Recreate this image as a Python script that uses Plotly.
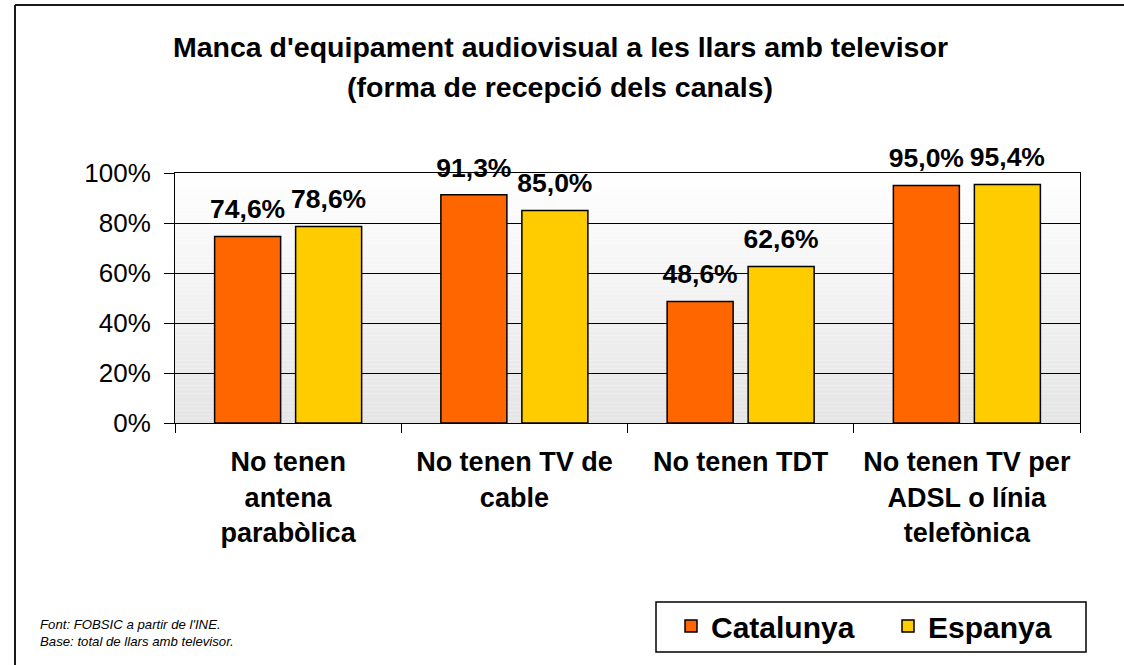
import plotly.graph_objects as go

# ---- data ----
categories = [
    "No tenen<br>antena<br>parabòlica",
    "No tenen TV de<br>cable",
    "No tenen TDT",
    "No tenen TV per<br>ADSL o línia<br>telefònica",
]
catalunya = [74.6, 91.3, 48.6, 95.0]
espanya = [78.6, 85.0, 62.6, 95.4]
series_names = ["Catalunya", "Espanya"]
y_ticks = [0, 20, 40, 60, 80, 100]
y_tick_labels = ["0%", "20%", "40%", "60%", "80%", "100%"]
title_lines = ["Manca d'equipament audiovisual a les llars amb televisor",
               "(forma de recepció dels canals)"]
footnote = "Font: FOBSIC a partir de l'INE.<br>Base: total de llars amb televisor."

FONT = "Arial, 'Liberation Sans', sans-serif"
W, H = 1124, 665
ML, MR, MT, MB = 175, 44, 173, 242
PW = W - ML - MR
PH = H - MT - MB
BARGAP, GROUPGAP = 0.284, 0.185


def px_x(p):
    return (p - ML) / PW


def px_y(p):
    return (H - MB - p) / PH


def fmt(v):
    return f"{v:.1f}".replace(".", ",") + "%"


fig = go.Figure()
colors = ["#FF6600", "#FFCC00"]
for name, vals, col in [(series_names[0], catalunya, colors[0]),
                        (series_names[1], espanya, colors[1])]:
    fig.add_trace(go.Bar(
        name=name, x=categories, y=vals,
        marker=dict(color=col, line=dict(color="#000000", width=1.5)),
        hoverinfo="skip",
    ))
# value labels (grouped like the bars)
for name, vals in [(series_names[0], catalunya), (series_names[1], espanya)]:
    fig.add_trace(go.Scatter(
        name=name + " labels", x=categories, y=vals, mode="markers+text",
        marker=dict(size=17, opacity=0),
        text=[fmt(v) for v in vals], textposition="top center",
        textfont=dict(family=FONT, size=26.5, color="#000000", weight="bold"),
        showlegend=False, hoverinfo="skip", cliponaxis=False,
    ))

# gradient background of plot area
shapes = []
n = 60
for i in range(n):
    t = (i + 0.5) / n  # 0 at bottom -> 1 top
    g = int(round(229 + (255 - 229) * t))
    shapes.append(dict(type="rect", xref="x domain", yref="y domain",
                       x0=0, x1=1, y0=i / n, y1=(i + 1) / n,
                       fillcolor=f"rgb({g},{g},{g})", line=dict(width=0),
                       layer="below"))
# outer frame (top and left visible)
shapes.append(dict(type="line", xref="paper", yref="paper",
                   x0=px_x(15), x1=px_x(1135), y0=px_y(5), y1=px_y(5),
                   line=dict(color="#1a1a1a", width=2)))
shapes.append(dict(type="line", xref="paper", yref="paper",
                   x0=px_x(15), x1=px_x(15), y0=px_y(5), y1=px_y(675),
                   line=dict(color="#1a1a1a", width=2)))
# legend box
shapes.append(dict(type="rect", xref="paper", yref="paper",
                   x0=px_x(656), x1=px_x(1086), y0=px_y(602), y1=px_y(652),
                   line=dict(color="#000000", width=1.5), fillcolor="rgba(0,0,0,0)"))

annotations = [
    dict(text="<b>" + title_lines[0] + "</b>", xref="paper", yref="paper",
         x=px_x(560), y=px_y(47), xanchor="center", yanchor="middle", showarrow=False,
         font=dict(family=FONT, size=28.5, color="#000000")),
    dict(text="<b>" + title_lines[1] + "</b>", xref="paper", yref="paper",
         x=px_x(560), y=px_y(87), xanchor="center", yanchor="middle", showarrow=False,
         font=dict(family=FONT, size=28.5, color="#000000")),
    dict(text="<i>" + footnote + "</i>", xref="paper", yref="paper",
         x=px_x(38), y=px_y(633), xanchor="left", yanchor="middle",
         align="left", showarrow=False,
         font=dict(family=FONT, size=13.2, color="#000000")),
]

fig.update_layout(
    width=W, height=H,
    margin=dict(l=ML, r=MR, t=MT, b=MB, autoexpand=False),
    paper_bgcolor="#FFFFFF", plot_bgcolor="#FFFFFF",
    barmode="group", bargap=BARGAP, bargroupgap=GROUPGAP,
    scattermode="group", scattergap=BARGAP,
    font=dict(family=FONT, color="#000000"),
    shapes=shapes,
    showlegend=True,
    legend=dict(orientation="h", x=px_x(671), y=px_y(600), xanchor="left", yanchor="top",
                borderwidth=0, bgcolor="rgba(0,0,0,0)",
                font=dict(family=FONT, size=30, color="#000000", weight="bold"),
                entrywidth=172, entrywidthmode="pixels"),
    annotations=annotations,
    hovermode=False,
)

fig.update_xaxes(
    showline=True, linecolor="#000000", linewidth=1, mirror=True,
    ticks="outside", ticklen=9, tickcolor="#000000", tickwidth=1,
    tickson="boundaries", showgrid=False, tickangle=0, automargin=False,
    tickfont=dict(family=FONT, size=27, color="#000000", weight="bold"),
    ticklabelstandoff=15,
)
fig.update_yaxes(
    range=[0, 100], tickvals=y_ticks, ticktext=y_tick_labels,
    showline=True, linecolor="#000000", linewidth=1, mirror=True,
    ticks="outside", ticklen=10, tickcolor="#000000", tickwidth=1,
    showgrid=True, gridcolor="#000000", gridwidth=1, zeroline=False,
    automargin=False,
    tickfont=dict(family=FONT, size=26, color="#000000"),
    ticklabelstandoff=8,
)

fig.write_html("out.html", config={"displayModeBar": False},
               post_script="document.body.style.margin='0px';")
